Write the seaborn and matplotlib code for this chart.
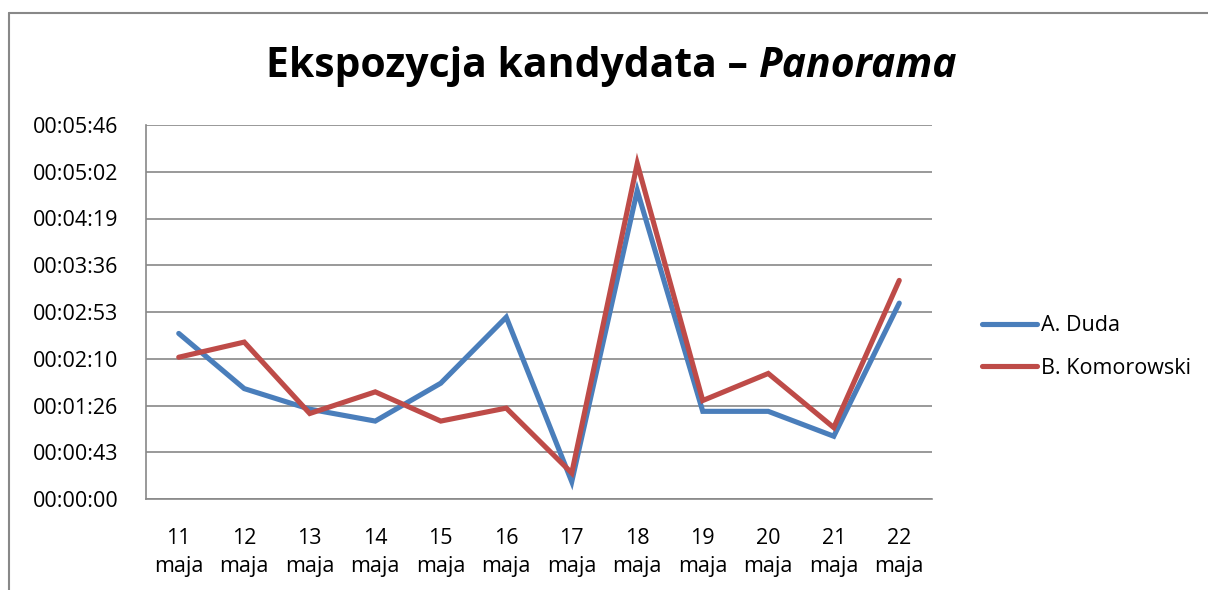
import matplotlib
matplotlib.use('Agg')
import matplotlib.pyplot as plt
from matplotlib.lines import Line2D
from matplotlib.ticker import FixedLocator, FuncFormatter
import numpy as np
import pandas as pd
import seaborn as sns

# Data (seconds of exposure per day)
days = ['11\nmaja', '12\nmaja', '13\nmaja', '14\nmaja', '15\nmaja', '16\nmaja',
        '17\nmaja', '18\nmaja', '19\nmaja', '20\nmaja', '21\nmaja', '22\nmaja']
duda = [153, 102, 83, 72, 107, 168, 16, 285, 81, 81, 58, 181]
komorowski = [131, 145, 79, 99, 72, 84, 24, 310, 91, 116, 66, 202]
series_names = ['A. Duda', 'B. Komorowski']
colors = ['#4A7EBB', '#BE4B48']

df = pd.DataFrame({
    'pos': list(range(len(days))) * 2,
    'czas': duda + komorowski,
    'kandydat': [series_names[0]] * len(days) + [series_names[1]] * len(days),
})

sns.set_style('white')
plt.rcParams['font.family'] = ['Open Sans', 'DejaVu Sans']
plt.rcParams['text.color'] = 'black'
plt.rcParams['xtick.color'] = 'black'
plt.rcParams['ytick.color'] = 'black'

fig = plt.figure(figsize=(12.08, 5.90), dpi=100)
ax = fig.add_axes([146 / 1208, 1 - 499 / 590, 786 / 1208, 374 / 590])

sns.lineplot(data=df, x='pos', y='czas', hue='kandydat', palette=colors,
             linewidth=3.7, ax=ax, legend=False, solid_joinstyle='miter')

grid_c = '#888888'
step = 43.2
ax.set_ylim(0, 8 * step)
ax.set_xlim(-0.5, len(days) - 0.5)
ax.yaxis.set_major_locator(FixedLocator(np.arange(9) * step))


def fmt_time(v, pos):
    s = int(round(v))
    return '%02d:%02d:%02d' % (s // 3600, (s % 3600) // 60, s % 60)


ax.yaxis.set_major_formatter(FuncFormatter(fmt_time))
ax.grid(axis='y', color=grid_c, linewidth=1.2)
ax.set_axisbelow(True)

ax.set_xticks(range(len(days)))
ax.set_xticklabels(days, linespacing=1.45)
ax.set_xticks(np.arange(-0.5, len(days)), minor=True)
ax.tick_params(axis='x', which='major', length=0, pad=21, labelsize=15.5)
ax.tick_params(axis='x', which='minor', length=6, width=1.2, color=grid_c, direction='out')
ax.tick_params(axis='y', length=6, width=1.2, color=grid_c, labelcolor='black',
               direction='out', pad=14, labelsize=15.5)

for side in ['top', 'right']:
    ax.spines[side].set_visible(False)
for side in ['left', 'bottom']:
    ax.spines[side].set_color(grid_c)
    ax.spines[side].set_linewidth(1.2)
ax.set_xlabel('')
ax.set_ylabel('')

# Title
fig.text(0.628, 0.888, 'Ekspozycja kandydata \u2013 ', ha='right', va='center',
         fontsize=29.4, fontweight='bold')
fig.text(0.628, 0.888, 'Panorama', ha='left', va='center',
         fontsize=29.4, fontweight='bold', fontstyle='italic')

# Legend
handles = [Line2D([], [], color=c, linewidth=3.7, solid_capstyle='round') for c in colors]
fig.legend(handles, series_names, loc='center left', bbox_to_anchor=(0.797, 0.412),
           frameon=False, fontsize=15.5, handlelength=2.55, handletextpad=0.2,
           labelspacing=1.0)

# Outer chart frame
fig.add_artist(Line2D([9 / 1208, 1], [1 - 13 / 590, 1 - 13 / 590], color=grid_c, linewidth=1.5))
fig.add_artist(Line2D([9 / 1208, 9 / 1208], [0, 1 - 13 / 590], color=grid_c, linewidth=1.5))

fig.savefig('out.png', dpi=100)
